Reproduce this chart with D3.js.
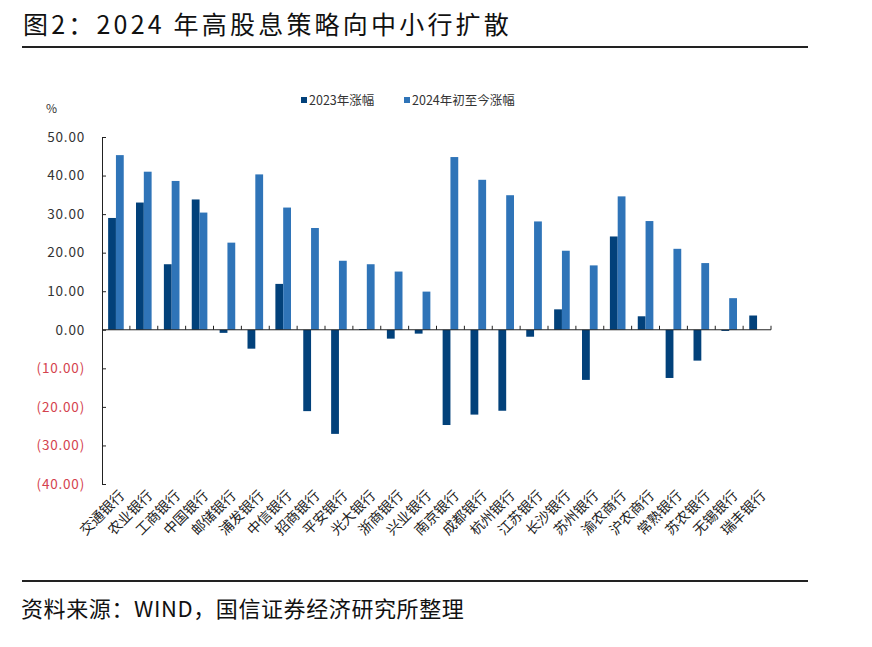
<!DOCTYPE html>
<html><head><meta charset="utf-8">
<script src="https://cdn.jsdelivr.net/npm/d3@7/dist/d3.min.js"></script>
<style>body{margin:0;background:#fff;} svg{display:block;}</style>
</head><body>
<svg id="c" width="872" height="647"></svg>
<script>
const categories = ["交通银行","农业银行","工商银行","中国银行","邮储银行","浦发银行","中信银行","招商银行","平安银行","光大银行","浙商银行","兴业银行","南京银行","成都银行","杭州银行","江苏银行","长沙银行","苏州银行","渝农商行","沪农商行","常熟银行","苏农银行","无锡银行","瑞丰银行"];
const gain2023 = [29.0,33.0,17.0,33.8,-0.8,-4.9,11.9,-21.1,-27.0,0.2,-2.3,-1.0,-24.7,-22.0,-21.0,-1.8,5.3,-13.0,24.2,3.5,-12.5,-8.0,-0.3,3.7];
const gain2024 = [45.3,41.0,38.6,30.4,22.6,40.3,31.7,26.4,17.9,17.0,15.1,9.9,44.8,38.9,34.9,28.1,20.5,16.7,34.6,28.2,21.0,17.3,8.2,null];
const yTicks = [50,40,30,20,10,0,-10,-20,-30,-40];
const seriesNames = ["2023年涨幅","2024年初至今涨幅"];
const colors = ["#02417a","#2f74b8"];

const svg = d3.select("#c");
const font = "'Noto Sans CJK SC','Noto Sans',sans-serif";

// Title
svg.append("text").attr("x",23).attr("y",34).attr("font-family",font).attr("font-size",25)
  .attr("letter-spacing",3.2).attr("fill","#111")
  .text("图2：2024 年高股息策略向中小行扩散");
svg.append("line").attr("x1",22).attr("x2",808).attr("y1",47).attr("y2",47).attr("stroke","#222").attr("stroke-width",2);
svg.append("line").attr("x1",22).attr("x2",808).attr("y1",581).attr("y2",581).attr("stroke","#222").attr("stroke-width",2);
svg.append("text").attr("x",21).attr("y",617).attr("font-family",font).attr("font-size",22)
  .attr("letter-spacing",0.6).attr("fill","#111")
  .text("资料来源：WIND，国信证券经济研究所整理");

const left = 102, right = 771;
const y = d3.scaleLinear().domain([-40,50]).range([484,137]);
const x = d3.scaleBand().domain(categories).range([left,right]).padding(0);
const bw = x.bandwidth()*0.28;

// y axis
const yAxis = d3.axisLeft(y).tickValues(yTicks).tickSize(-4).tickSizeOuter(0).tickPadding(17)
  .tickFormat(d => d<0 ? "(" + d3.format(".2f")(-d) + ")" : d3.format(".2f")(d));
const ga = svg.append("g").attr("transform",`translate(${left},0)`).call(yAxis);
ga.select(".domain").attr("stroke","#222");
ga.selectAll(".tick line").attr("stroke","#222");
ga.selectAll(".tick text").attr("font-family",font).attr("font-size",13.5).attr("letter-spacing",0.8)
  .attr("fill", d => d<0 ? "#d4424e" : "#333");

svg.append("text").attr("x",46).attr("y",113).attr("font-family",font).attr("font-size",12).attr("fill","#333").text("%");

// bars
const series = [gain2023, gain2024];
series.forEach((vals,si)=>{
  svg.append("g").selectAll("rect").data(categories.map((c,i)=>({c,v:vals[i]})).filter(d=>d.v!==null))
    .join("rect")
    .attr("x", d => x(d.c) + x.bandwidth()/2 - bw + si*bw)
    .attr("width", bw)
    .attr("y", d => y(Math.max(0,d.v)))
    .attr("height", d => Math.max(1, Math.abs(y(d.v)-y(0))))
    .attr("fill", colors[si]);
});

// x axis line and ticks
const y0 = y(0);
svg.append("line").attr("x1",left).attr("x2",right).attr("y1",y0).attr("y2",y0).attr("stroke","#222");
svg.append("g").selectAll("line").data(categories).join("line")
  .attr("x1", d => x(d)+x.bandwidth()).attr("x2", d => x(d)+x.bandwidth())
  .attr("y1", y0).attr("y2", y0-4).attr("stroke","#222");

// x labels
svg.append("g").selectAll("text").data(categories).join("text")
  .attr("transform", d => `translate(${x(d)+x.bandwidth()/2+6},${493}) rotate(-45)`)
  .attr("text-anchor","end").attr("dy","0.35em")
  .attr("font-family",font).attr("font-size",14).attr("fill","#222")
  .text(d=>d);

// legend
const legX = [301, 404];
seriesNames.forEach((n,i)=>{
  svg.append("rect").attr("x",legX[i]).attr("y",97).attr("width",6).attr("height",6).attr("fill",colors[i]);
  svg.append("text").attr("x",legX[i]+8).attr("y",105).attr("font-family",font).attr("font-size",12.5).attr("fill","#333").text(n);
});
</script>
</body></html>
